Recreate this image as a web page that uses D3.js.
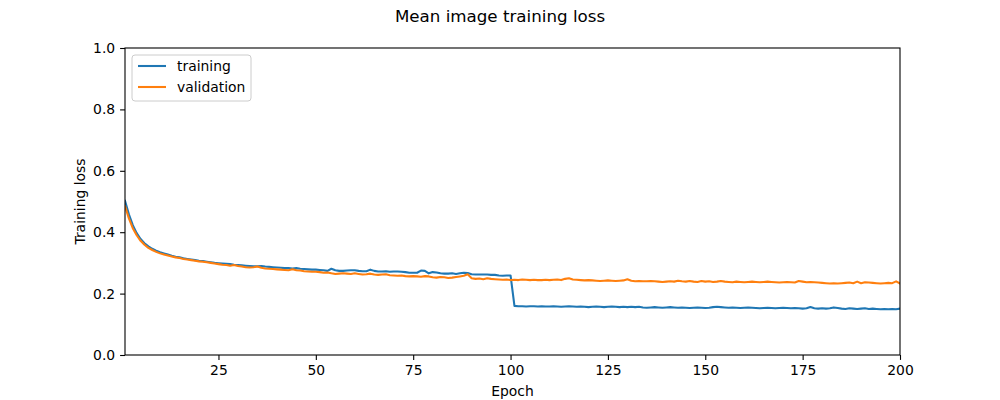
<!DOCTYPE html>
<html>
<head>
<meta charset="utf-8">
<script src="https://cdn.jsdelivr.net/npm/d3@7"></script>
<style>
  body { margin: 0; background: #fff; }
  svg { font-family: "DejaVu Sans", sans-serif; }
</style>
</head>
<body>
<svg id="chart" width="1000" height="400"></svg>
<script>
// loss per epoch
var trainingLoss = [
  0.502, 0.458, 0.423, 0.397, 0.378, 0.364, 0.354, 0.346, 0.340, 0.335,
  0.331, 0.327, 0.323, 0.320, 0.318, 0.315, 0.313, 0.311, 0.309, 0.307,
  0.306, 0.304, 0.302, 0.300, 0.299, 0.298, 0.297, 0.296, 0.294, 0.293,
  0.292, 0.291, 0.290, 0.289, 0.289, 0.290, 0.288, 0.287, 0.286, 0.285,
  0.284, 0.283, 0.283, 0.282, 0.283, 0.281, 0.280, 0.279, 0.278, 0.278,
  0.277, 0.276, 0.274, 0.281, 0.276, 0.274, 0.274, 0.275, 0.276, 0.276,
  0.274, 0.273, 0.273, 0.278, 0.274, 0.272, 0.272, 0.273, 0.271, 0.272,
  0.272, 0.271, 0.270, 0.268, 0.268, 0.268, 0.275, 0.274, 0.266, 0.270,
  0.269, 0.266, 0.265, 0.265, 0.266, 0.264, 0.266, 0.268, 0.267, 0.263,
  0.262, 0.262, 0.262, 0.262, 0.261, 0.261, 0.259, 0.258, 0.259, 0.259,
  0.160, 0.159, 0.159, 0.158, 0.159, 0.159, 0.158, 0.159, 0.158, 0.158,
  0.159, 0.158, 0.157, 0.158, 0.159, 0.158, 0.157, 0.158, 0.157, 0.156,
  0.157, 0.158, 0.157, 0.156, 0.157, 0.158, 0.157, 0.156, 0.157, 0.156,
  0.157, 0.156, 0.157, 0.155, 0.154, 0.155, 0.156, 0.155, 0.154, 0.155,
  0.156, 0.155, 0.154, 0.155, 0.154, 0.153, 0.154, 0.155, 0.154, 0.153,
  0.154, 0.156, 0.157, 0.156, 0.155, 0.154, 0.155, 0.154, 0.153, 0.154,
  0.155, 0.154, 0.153, 0.152, 0.153, 0.154, 0.153, 0.152, 0.153, 0.154,
  0.153, 0.152, 0.153, 0.152, 0.151, 0.152, 0.156, 0.152, 0.151, 0.152,
  0.151, 0.152, 0.155, 0.153, 0.151, 0.150, 0.152, 0.151, 0.150, 0.151,
  0.152, 0.150, 0.151, 0.150, 0.149, 0.150, 0.149, 0.150, 0.149, 0.151
];

var validationLoss = [
  0.485, 0.445, 0.413, 0.390, 0.372, 0.359, 0.349, 0.342, 0.336, 0.331,
  0.327, 0.324, 0.321, 0.318, 0.316, 0.313, 0.311, 0.309, 0.307, 0.305,
  0.304, 0.302, 0.300, 0.298, 0.296, 0.294, 0.293, 0.291, 0.293, 0.290,
  0.288, 0.286, 0.285, 0.286, 0.288, 0.284, 0.282, 0.281, 0.280, 0.279,
  0.278, 0.277, 0.276, 0.279, 0.276, 0.275, 0.273, 0.272, 0.271, 0.271,
  0.270, 0.268, 0.269, 0.266, 0.264, 0.265, 0.266, 0.265, 0.264, 0.266,
  0.264, 0.262, 0.263, 0.265, 0.262, 0.261, 0.262, 0.263, 0.260, 0.259,
  0.258, 0.259, 0.257, 0.256, 0.257, 0.256, 0.255, 0.257, 0.256, 0.253,
  0.252, 0.254, 0.253, 0.251, 0.252, 0.254, 0.256, 0.258, 0.263, 0.250,
  0.248, 0.249, 0.247, 0.250, 0.248, 0.247, 0.246, 0.245, 0.246, 0.244,
  0.245, 0.244, 0.246, 0.245, 0.244, 0.245, 0.244, 0.244, 0.245, 0.244,
  0.245, 0.246, 0.244, 0.248, 0.250, 0.246, 0.245, 0.244, 0.243, 0.244,
  0.243, 0.242, 0.241, 0.242, 0.243, 0.242, 0.241, 0.242, 0.243, 0.247,
  0.242, 0.240, 0.241, 0.240, 0.240, 0.241, 0.240, 0.239, 0.238, 0.239,
  0.240, 0.239, 0.242, 0.240, 0.239, 0.241, 0.239, 0.238, 0.241, 0.239,
  0.240, 0.238, 0.239, 0.241, 0.239, 0.238, 0.237, 0.239, 0.238, 0.237,
  0.238, 0.239, 0.238, 0.237, 0.238, 0.239, 0.238, 0.237, 0.236, 0.237,
  0.238, 0.237, 0.236, 0.241, 0.239, 0.237, 0.238, 0.237, 0.236, 0.235,
  0.234, 0.233, 0.234, 0.233, 0.234, 0.235, 0.236, 0.234, 0.239, 0.234,
  0.237, 0.236, 0.235, 0.234, 0.233, 0.234, 0.235, 0.234, 0.240, 0.233
];

var xTicks = [25, 50, 75, 100, 125, 150, 175, 200];
var yTicks = [0.0, 0.2, 0.4, 0.6, 0.8, 1.0];
var seriesNames = ["training", "validation"];
var seriesColors = ["#1f77b4", "#ff7f0e"];

var margin = {top: 48, right: 100, bottom: 45, left: 125};
var width = 1000 - margin.left - margin.right;
var height = 400 - margin.top - margin.bottom;

var svg = d3.select("#chart");

svg.append("text")
  .attr("x", 500)
  .attr("y", 22)
  .attr("text-anchor", "middle")
  .style("font-size", "16.7px")
  .text("Mean image training loss");

var g = svg.append("g")
  .attr("transform", "translate(" + margin.left + "," + margin.top + ")");

var x = d3.scaleLinear().domain([1, 200]).range([0, width]);
var y = d3.scaleLinear().domain([0, 1]).range([height, 0]);

g.append("defs").append("clipPath").attr("id", "clip")
  .append("rect").attr("width", width).attr("height", height);

var line = d3.line()
  .x(function(d, i){ return x(i + 1); })
  .y(function(d){ return y(d); });

var series = [trainingLoss, validationLoss];
g.append("g").attr("clip-path", "url(#clip)")
  .selectAll("path")
  .data(series)
  .enter().append("path")
  .attr("d", line)
  .attr("fill", "none")
  .attr("stroke", function(d, i){ return seriesColors[i]; })
  .attr("stroke-width", 2.08)
  .attr("stroke-linejoin", "round")
  .attr("stroke-linecap", "square");

var xAxis = g.append("g")
  .attr("transform", "translate(0," + height + ")")
  .call(d3.axisBottom(x).tickValues(xTicks).tickSize(4.9).tickPadding(4.9));
var yAxis = g.append("g")
  .call(d3.axisLeft(y).tickValues(yTicks).tickSize(4.9).tickPadding(4.9)
    .tickFormat(d3.format(".1f")));

[xAxis, yAxis].forEach(function(ax){
  ax.select(".domain").remove();
  ax.selectAll("line").attr("stroke", "#000").attr("stroke-width", 1.1);
  ax.selectAll("text").style("font-size", "13.9px").attr("fill", "#000")
    .style("font-family", "DejaVu Sans, sans-serif");
});

// frame
g.append("rect")
  .attr("width", width).attr("height", height)
  .attr("fill", "none")
  .attr("stroke", "#000")
  .attr("stroke-width", 1.1);

svg.append("text")
  .attr("x", margin.left + width / 2)
  .attr("y", 396)
  .attr("text-anchor", "middle")
  .style("font-size", "13.9px")
  .text("Epoch");

svg.append("text")
  .attr("transform", "translate(85," + (margin.top + height / 2) + ") rotate(-90)")
  .attr("text-anchor", "middle")
  .style("font-size", "13.9px")
  .text("Training loss");

// legend
var legend = g.append("g").attr("transform", "translate(7,7)");
legend.append("rect")
  .attr("width", 119).attr("height", 46)
  .attr("rx", 3).attr("ry", 3)
  .attr("fill", "#fff").attr("fill-opacity", 0.8)
  .attr("stroke", "#cccccc").attr("stroke-width", 1);

var items = legend.selectAll("g.item")
  .data(seriesNames)
  .enter().append("g")
  .attr("class", "item")
  .attr("transform", function(d, i){ return "translate(0," + (11 + i * 21) + ")"; });
items.append("line")
  .attr("x1", 6).attr("x2", 34)
  .attr("stroke", function(d, i){ return seriesColors[i]; })
  .attr("stroke-width", 2.08);
items.append("text")
  .attr("x", 45).attr("y", 4.5)
  .style("font-size", "13.9px")
  .text(function(d){ return d; });
</script>
</body>
</html>
